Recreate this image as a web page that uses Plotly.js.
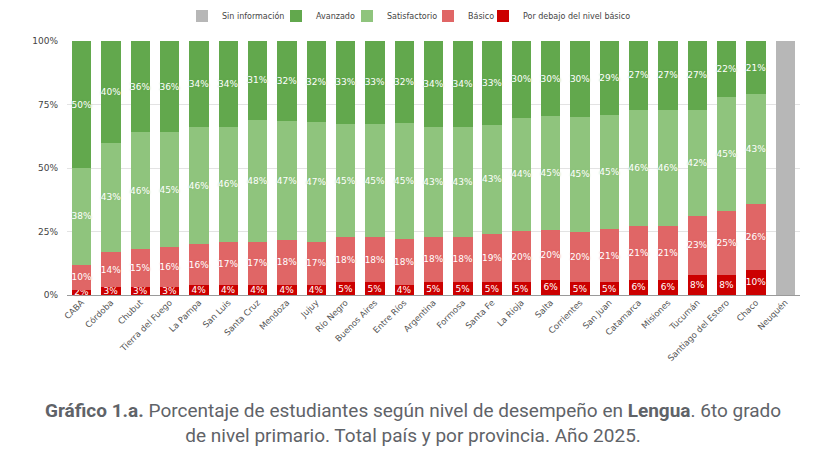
<!DOCTYPE html>
<html>
<head>
<meta charset="utf-8">
<script src="https://cdn.plot.ly/plotly-3.0.1.min.js"></script>
<style>
  html, body { margin: 0; padding: 0; background: #ffffff; }
  #chart { width: 819px; height: 460px; }
</style>
</head>
<body>
<div id="chart"></div>
<script>
// Jurisdicciones (incluye el total país "Argentina")
const jurisdicciones = [
  "CABA", "Córdoba", "Chubut", "Tierra del Fuego", "La Pampa", "San Luis",
  "Santa Cruz", "Mendoza", "Jujuy", "Río Negro", "Buenos Aires", "Entre Ríos",
  "Argentina", "Formosa", "Santa Fe", "La Rioja", "Salta", "Corrientes",
  "San Juan", "Catamarca", "Misiones", "Tucumán", "Santiago del Estero",
  "Chaco", "Neuquén"
];

// Porcentaje de estudiantes por nivel de desempeño (Lengua, 6to grado, 2025)
const porDebajo = [2, 3, 3, 3, 4, 4, 4, 4, 4, 5, 5, 4, 5, 5, 5, 5, 6, 5, 5, 6, 6, 8, 8, 10, null];
const basico = [10, 14, 15, 16, 16, 17, 17, 18, 17, 18, 18, 18, 18, 18, 19, 20, 20, 20, 21, 21, 21, 23, 25, 26, null];
const satisfactorio = [38, 43, 46, 45, 46, 46, 48, 47, 47, 45, 45, 45, 43, 43, 43, 44, 45, 45, 45, 46, 46, 42, 45, 43, null];
const avanzado = [50, 40, 36, 36, 34, 34, 31, 32, 32, 33, 33, 32, 34, 34, 33, 30, 30, 30, 29, 27, 27, 27, 22, 21, null];
const sinInformacion = [null, null, null, null, null, null, null, null, null, null, null, null,
  null, null, null, null, null, null, null, null, null, null, null, null, 100];

const yTicks = [0, 25, 50, 75, 100];

// Plot area in pixels, used to place each legend entry along the top
const plotLeft = 67, plotWidth = 733, plotTop = 41, plotHeight = 254;
const toPaperX = px => (px - plotLeft) / plotWidth;
const toPaperY = py => (plotTop + plotHeight - py) / plotHeight;

function serie(nombre, valores, color, leyenda, conEtiqueta) {
  return {
    type: "bar",
    name: nombre,
    legend: leyenda,
    x: jurisdicciones,
    y: valores,
    marker: { color: color },
    text: conEtiqueta ? valores.map(v => (v === null ? "" : v + "%")) : undefined,
    texttemplate: conEtiqueta ? "%{text}" : undefined,
    textposition: conEtiqueta ? "inside" : "none",
    insidetextanchor: "middle",
    textangle: 0,
    constraintext: "none",
    cliponaxis: false,
    textfont: {
      family: "DejaVu Sans, sans-serif",
      size: 9,
      color: "#ffffff",
      shadow: "0px 0px 2px " + color
    },
    hovertemplate: "%{x}: %{text}<extra>" + nombre + "</extra>"
  };
}

const data = [
  serie("Por debajo del nivel básico", porDebajo, "#cc0000", "legend5", true),
  serie("Básico", basico, "#e06666", "legend4", true),
  serie("Satisfactorio", satisfactorio, "#8fc47d", "legend3", true),
  serie("Avanzado", avanzado, "#62a84d", "legend2", true),
  serie("Sin información", sinInformacion, "#b7b7b7", "legend", false)
];

// One legend per series so each entry sits at its own spot on the top row;
// textoX is where the entry's label starts
function leyenda(textoX) {
  return {
    orientation: "h",
    x: toPaperX(textoX - 40),
    xanchor: "left",
    y: toPaperY(16),
    yanchor: "middle",
    itemwidth: 30,
    itemclick: false,
    bgcolor: "rgba(0,0,0,0)",
    font: { family: "DejaVu Sans, sans-serif", size: 8, color: "#444444" }
  };
}

const layout = {
  width: 819,
  height: 460,
  paper_bgcolor: "#ffffff",
  plot_bgcolor: "#ffffff",
  margin: {
    l: plotLeft,
    r: 819 - plotLeft - plotWidth,
    t: plotTop,
    b: 460 - plotTop - plotHeight,
    autoexpand: false
  },
  barmode: "stack",
  barnorm: "percent",
  bargap: 0.34,
  showlegend: true,
  legend: leyenda(222),
  legend2: leyenda(316),
  legend3: leyenda(387),
  legend4: leyenda(468),
  legend5: leyenda(523),
  xaxis: {
    type: "category",
    tickangle: -45,
    tickfont: { family: "DejaVu Sans, sans-serif", size: 8.5, color: "#555555" },
    showgrid: false,
    showline: false,
    ticks: "",
    automargin: false
  },
  yaxis: {
    range: [0, 100],
    tickvals: yTicks,
    ticktext: yTicks.map(v => v + "%"),
    tickfont: { family: "DejaVu Sans, sans-serif", size: 9, color: "#444444" },
    gridcolor: "#e3e3e3",
    gridwidth: 1,
    zeroline: true,
    zerolinecolor: "#9a9a9a",
    zerolinewidth: 1,
    ticks: "",
    ticklabelstandoff: 8,
    automargin: false,
    fixedrange: true
  },
  annotations: [
    {
      xref: "paper", yref: "paper",
      x: toPaperX(413), y: toPaperY(423),
      xanchor: "center", yanchor: "middle",
      showarrow: false,
      align: "center",
      text: "<b>Gráfico 1.a.</b> Porcentaje de estudiantes según nivel de desempeño en <b>Lengua</b>. 6to grado<br>de nivel primario. Total país y por provincia. Año 2025.",
      font: { family: "Roboto, sans-serif", size: 19, color: "#5f6368" }
    }
  ]
};

Plotly.newPlot("chart", data, layout, { displayModeBar: false, staticPlot: true });
</script>
</body>
</html>
